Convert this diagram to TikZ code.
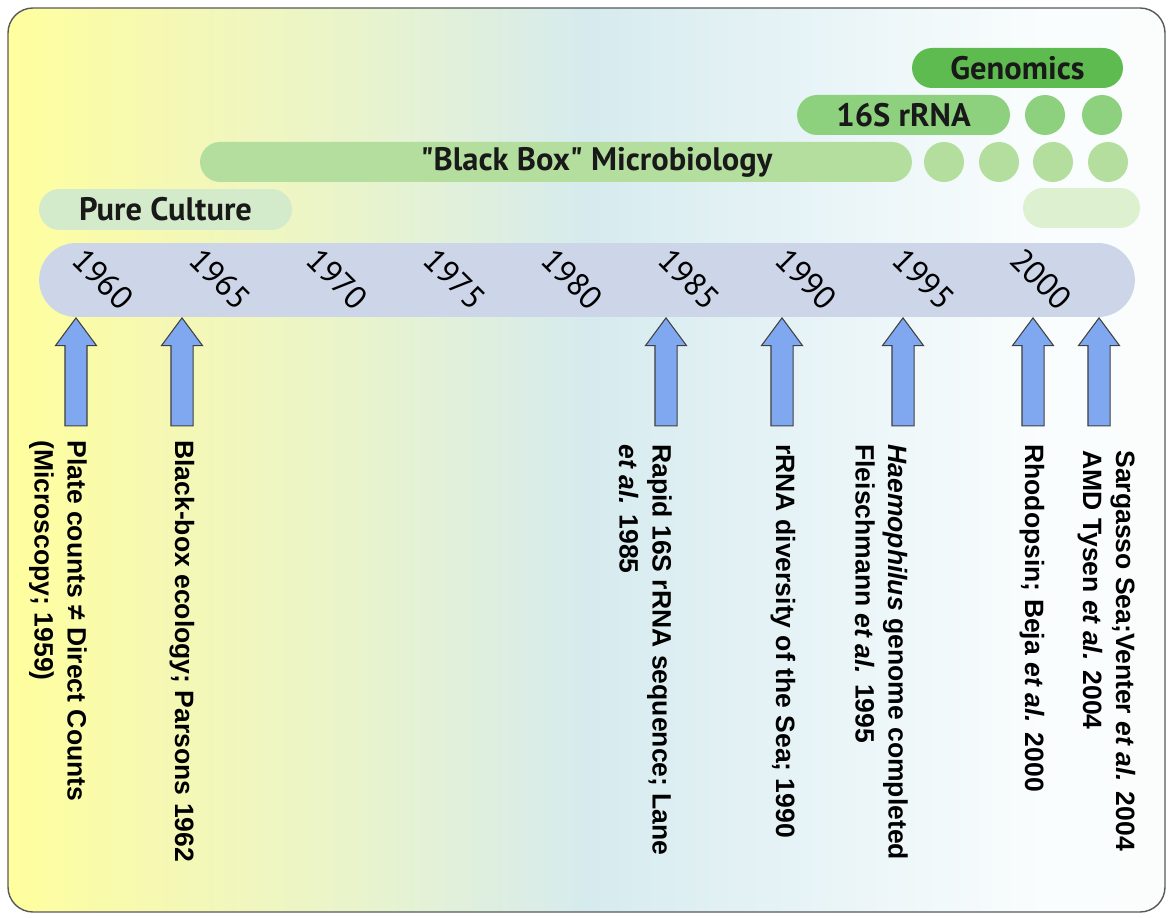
\documentclass[tikz,border=0pt]{standalone}
\usepackage{fontspec}
\setmainfont{Liberation Sans}
\newfontfamily\bandfont{PT Sans}
\newfontfamily\eventfont{Liberation Sans}
\usetikzlibrary{shapes.misc,shapes.arrows}
\definecolor{axisblue}{HTML}{CDD5E8}
\definecolor{pureg}{HTML}{D3EBCB}
\definecolor{bboxg}{HTML}{B3DE9E}
\definecolor{rrnag}{HTML}{8DD07E}
\definecolor{genomg}{HTML}{5EBB4F}
\definecolor{paleg}{HTML}{DDF0D0}
\definecolor{arrowblue}{HTML}{80A8F0}
\definecolor{bgA}{HTML}{FFFF9E}
\definecolor{bgB}{HTML}{F5F8B4}
\definecolor{bgC}{HTML}{E9F4CC}
\definecolor{bgD}{HTML}{D6EBEE}
\definecolor{bgE}{HTML}{E8F4F7}
\definecolor{bgF}{HTML}{FAFDFD}
\pgfdeclarehorizontalshading{panelshade}{100bp}{color(0bp)=(bgA); color(25bp)=(bgA);
  color(32bp)=(bgB); color(40bp)=(bgC); color(50bp)=(bgD); color(60bp)=(bgE);
  color(70bp)=(bgF); color(100bp)=(white)}

\begin{document}
\begin{tikzpicture}[x=0.02cm, y=-0.02cm,
    band/.style={rounded rectangle, minimum height=0.8cm, inner sep=0pt,
      font=\bandfont\bfseries\fontsize{18.5}{20}\selectfont, text=black!90},
    dot/.style={circle, minimum size=0.8cm, inner sep=0pt},
    year/.style={rotate=-45, inner sep=0pt, font=\bandfont\fontsize{18.4}{20}\selectfont},
    uparrow/.style={single arrow, shape border rotate=90, draw=black!75,
      line width=0.6pt, fill=arrowblue, minimum height=2.16cm, minimum width=0.8cm,
      single arrow head extend=0.19cm, single arrow tip angle=73, inner sep=0pt,
      anchor=tip},
    event/.style={rotate=-90, anchor=west, align=left, inner sep=0pt,
      font=\eventfont\bfseries\fontsize{15.1}{18.8}\selectfont}]
  \newcommand\shaft{\hspace*{0.42cm}\rule{0pt}{0.42cm}}
  \useasboundingbox (0,0) rectangle (1172,918);
  % panel
  \path[shading=panelshade, draw=black!65, line width=0.8pt, rounded corners=0.5cm]
    (8,8) rectangle (1165,912);
  % bands
  \node[band, fill=genomg, minimum width=4.22cm] (genom) at (1017.5,68) {Genomics};%
  \node[band, fill=rrnag, minimum width=4.26cm] (rrna) at (903.5,115) {16S rRNA};%
  \node[dot, fill=rrnag] (r1) at (1045,115) {};%
  \node[dot, fill=rrnag] (r2) at (1102,115) {};%
  \node[band, fill=bboxg, minimum width=14.24cm] (bbox) at (556,162) {};%
  \node[band] (lbbox) at (596.5,162) {"Black Box" Microbiology};%
  \node[dot, fill=bboxg] (b1) at (944,162) {};%
  \node[dot, fill=bboxg] (b2) at (999,162) {};%
  \node[dot, fill=bboxg] (b3) at (1053,162) {};%
  \node[dot, fill=bboxg] (b4) at (1108,162) {};%
  \node[band, fill=pureg, minimum width=5.06cm, minimum height=0.82cm] (pure) at (165.5,209.5) {Pure Culture};%
  \node[band, fill=paleg, minimum width=2.34cm] (late) at (1081.5,208) {};%
  % time axis
  \node[band, fill=axisblue, minimum width=21.92cm, minimum height=1.48cm] (axis) at (587,280) {};%
  \node[year] (y60) at (103,279) {1960};%
  \node[year] (y65) at (220.25,279) {1965};%
  \node[year] (y70) at (337.5,279) {1970};%
  \node[year] (y75) at (454.75,279) {1975};%
  \node[year] (y80) at (572,279) {1980};%
  \node[year] (y85) at (689.25,279) {1985};%
  \node[year] (y90) at (806.5,279) {1990};%
  \node[year] (y95) at (923.75,279) {1995};%
  \node[year] (y00) at (1041,279) {2000};%
  % events
  \node[uparrow] (a59) at (76,317) {\shaft};%
  \node[uparrow] (a62) at (182,317) {\shaft};%
  \node[uparrow] (a85) at (666,317) {\shaft};%
  \node[uparrow] (a90) at (782,317) {\shaft};%
  \node[uparrow] (a95) at (903,317) {\shaft};%
  \node[uparrow] (a00) at (1033,317) {\shaft};%
  \node[uparrow] (a04) at (1099,317) {\shaft};%
  \node[event] (t59) at (58,440) {Plate counts ≠ Direct Counts\\(Microscopy; 1959)};%
  \node[event] (t62) at (182,440) {Black-box ecology; Parsons 1962};%
  \node[event] (t85) at (645.5,444) {Rapid 16S rRNA sequence; Lane\\\textit{et al.} 1985};%
  \node[event] (t90) at (783,444) {rRNA diversity of the Sea; 1990};%
  \node[event] (t95) at (881.5,444) {\textit{Haemophilus} genome completed\\Fleischmann \textit{et al.} 1995};%
  \node[event] (t00) at (1032,444) {Rhodopsin; Beja \textit{et al.} 2000};%
  \node[event] (t04) at (1106.5,450) {Sargasso Sea;Venter \textit{et al.} 2004\\AMD Tysen \textit{et al.} 2004};%
\end{tikzpicture}
\end{document}
